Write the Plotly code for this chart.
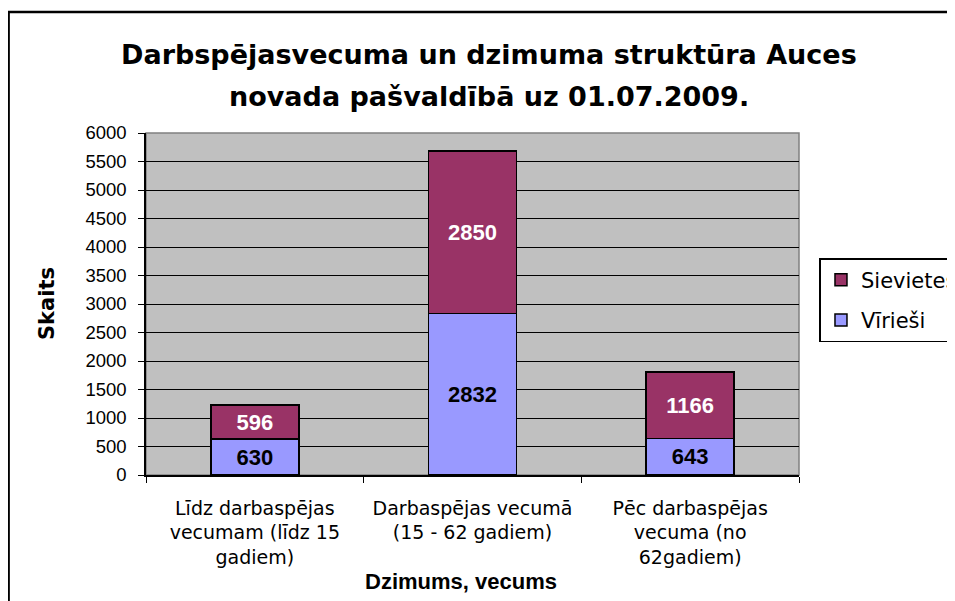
import plotly.graph_objects as go

categories = ["Līdz darbaspējas<br>vecumam (līdz 15<br>gadiem)",
              "Darbaspējas vecumā<br>(15 - 62 gadiem)",
              "Pēc darbaspējas<br>vecuma (no<br>62gadiem)"]
viriesi = [630, 2832, 643]
sievietes = [596, 2850, 1166]
y_ticks = list(range(0, 6001, 500))

# browser body margin offsets everything by 8px
OFF = 8
W, H = 955, 601
L = 146 - OFF
R = W - (799.5 - OFF)
T = 133 - OFF
B = H - (475 - OFF)
pw = W - L - R
ph = H - T - B


def px(x):
    return (x - OFF - L) / pw


def py(y):
    return (H - B - (y - OFF)) / ph


FONT = "Liberation Sans, Arial, sans-serif"
WIDE = "DejaVu Sans, Liberation Sans, sans-serif"

fig = go.Figure()
fig.add_trace(go.Bar(
    x=categories, y=viriesi, name="Vīrieši",
    marker=dict(color="#9999FF", line=dict(color="black", width=1.5)),
    text=[str(v) for v in viriesi], textposition="inside",
    insidetextanchor="middle", constraintext="none",
    textfont=dict(color="black", size=22, family=FONT, weight="bold"),
    legendgroup="v", legendrank=2,
))
fig.add_trace(go.Bar(
    x=categories, y=sievietes, name="Sievietes",
    marker=dict(color="#993366", line=dict(color="black", width=1.5)),
    text=[str(v) for v in sievietes], textposition="inside",
    insidetextanchor="middle", constraintext="none",
    textfont=dict(color="white", size=22, family=FONT, weight="bold"),
    legendgroup="s", legendrank=1,
))

fig.update_layout(
    width=W, height=H,
    margin=dict(l=L, r=R, t=T, b=B, autoexpand=False),
    barmode="stack", bargap=0.596,
    plot_bgcolor="#C0C0C0", paper_bgcolor="white",
    font=dict(family=FONT, color="black", size=18),
    showlegend=True,
    legend=dict(
        x=px(820), y=py(258), xanchor="left", yanchor="top",
        bordercolor="black", borderwidth=1.5, bgcolor="white",
        font=dict(size=21, family=WIDE), traceorder="grouped",
        tracegroupgap=10, itemwidth=30,
    ),
    xaxis=dict(
        showline=True, linecolor="black", linewidth=1.5,
        ticks="outside", ticklen=6, tickcolor="black", tickson="boundaries",
        tickfont=dict(size=19, family=WIDE), showgrid=False,
        ticklabelstandoff=15,
    ),
    yaxis=dict(
        range=[0, 6000], tickvals=y_ticks, ticktext=[str(t) for t in y_ticks],
        showline=True, linecolor="black", linewidth=1.5,
        ticks="outside", ticklen=6, tickcolor="black",
        showgrid=True, gridcolor="black", gridwidth=1, zeroline=False,
        tickfont=dict(size=18.5), ticklabelstandoff=8,
    ),
    shapes=[
        dict(type="rect", xref="paper", yref="paper", x0=0, x1=1, y0=0, y1=1,
             line=dict(color="#808080", width=1.5), layer="below"),
        dict(type="rect", xref="paper", yref="paper",
             x0=px(8.5), x1=px(1000), y0=py(640), y1=py(12),
             line=dict(color="black", width=2.5)),
    ],
    annotations=[
        dict(text="<b>Darbspējasvecuma un dzimuma struktūra Auces</b>",
             xref="paper", yref="paper", x=px(489), y=py(55),
             showarrow=False, font=dict(size=27, family=WIDE),
             xanchor="center", yanchor="middle"),
        dict(text="<b>novada pašvaldībā uz 01.07.2009.</b>",
             xref="paper", yref="paper", x=px(489), y=py(97),
             showarrow=False, font=dict(size=27, family=WIDE),
             xanchor="center", yanchor="middle"),
        dict(text="<b>Dzimums, vecums</b>", xref="paper", yref="paper",
             x=px(461), y=py(581), showarrow=False,
             font=dict(size=22, family=FONT),
             xanchor="center", yanchor="middle"),
        dict(text="<b>Skaits</b>", xref="paper", yref="paper",
             x=px(47), y=py(304), showarrow=False,
             font=dict(size=21, family=WIDE),
             textangle=-90, xanchor="center", yanchor="middle"),
    ],
)

fig.write_html("out.html")
